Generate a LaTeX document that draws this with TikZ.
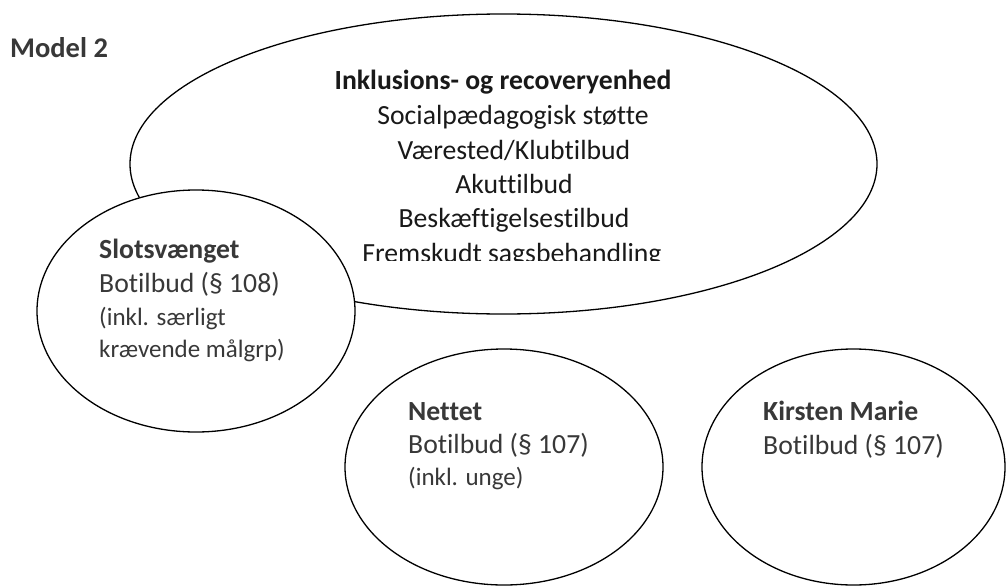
\documentclass[tikz,border=0pt]{standalone}
\usepackage{fontspec}
\setmainfont{Carlito}[Ligatures={NoCommon,TeX}]
\usetikzlibrary{shapes.geometric}
\definecolor{txtdark}{gray}{0.1}
\definecolor{txtgray}{gray}{0.22}
\tikzset{
  bubble/.style={ellipse, draw=black, line width=1.3pt, fill=white, inner sep=0pt, outer sep=0pt},
  bigline/.style={anchor=base, inner sep=0pt, text=txtdark, font=\fontsize{27.7}{34}\selectfont},
  bighead/.style={bigline, font=\fontsize{27.7}{34}\selectfont\bfseries},
  smline/.style={anchor=base west, inner sep=0pt, text=txtgray, font=\fontsize{27.7}{33}\selectfont},
  smhead/.style={smline, font=\fontsize{27.7}{33}\selectfont\bfseries},
  smnote/.style={smline, font=\fontsize{25}{33}\selectfont},
}
\begin{document}
\begin{tikzpicture}[x=1pt,y=-1pt]
\useasboundingbox[fill=white] (0,0) rectangle (1006,586);
% ellipses
\node[bubble, minimum width=747pt, minimum height=300pt] (big) at (503.5,164) {};
\node[bubble, minimum width=318pt, minimum height=242pt] (slots) at (196,311) {};
\node[bubble, minimum width=318pt, minimum height=236pt] (nettet) at (504,467) {};
\node[bubble, minimum width=303pt, minimum height=236pt] (kirsten) at (853.5,467) {};
% title
\node[anchor=base west, inner sep=0pt, text=txtgray, font=\fontsize{28.5}{34}\selectfont\bfseries] (title) at (10,57) {Model 2};
% big ellipse text (bottom line clipped)
\begin{scope}
\clip (0,0) rectangle (1006,260.5);
\node[bighead] (b0) at (503,89) {Inklusions- og recoveryenhed};
\node[bigline] (b1) at (513,124) {Socialpædagogisk støtte};
\node[bigline] (b2) at (514,159) {Værested/Klubtilbud};
\node[bigline] (b3) at (514,193) {Akuttilbud};
\node[bigline] (b4) at (514,227) {Beskæftigelsestilbud};
\node[bigline] (b5) at (512,262) {Fremskudt sagsbehandling};
\end{scope}
% Slotsvænget
\node[smhead] (s0) at (99,258) {Slotsvænget};
\node[smline] (s1) at (99,292) {Botilbud (§ 108)};
\node[smnote] (s2) at (99,325) {(inkl. særligt};
\node[smnote] (s3) at (99,357) {krævende målgrp)};
% Nettet
\node[smhead] (n0) at (408,420) {Nettet};
\node[smline] (n1) at (408,453) {Botilbud (§ 107)};
\node[smnote] (n2) at (408,485) {(inkl. unge)};
% Kirsten Marie
\node[smhead] (k0) at (763,420) {Kirsten Marie};
\node[smline] (k1) at (763,454) {Botilbud (§ 107)};
\end{tikzpicture}
\end{document}
